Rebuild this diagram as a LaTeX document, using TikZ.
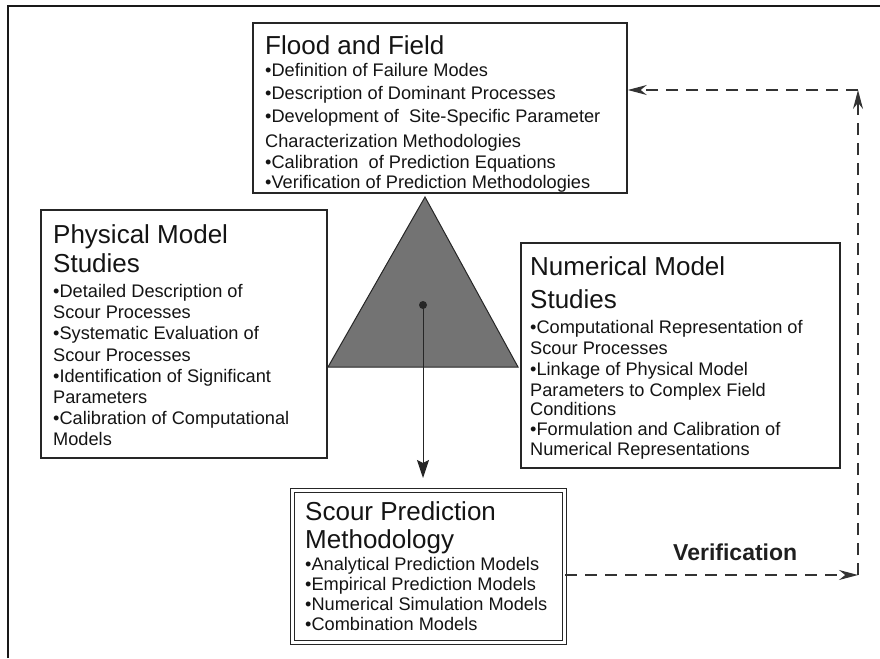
\documentclass[tikz,border=0pt]{standalone}
\usepackage{fontspec}
\setmainfont{Liberation Sans}
\usetikzlibrary{arrows.meta}
\begin{document}
\begin{tikzpicture}[x=1pt,y=-1pt,
  box/.style={draw=black!85, line width=1.6pt, rectangle, inner sep=0pt, fill=white},
  dbox/.style={draw=black!85, line width=1.2pt, double=white, double distance=2.8pt, rectangle, inner sep=0pt},
  ttl/.style={font=\fontsize{26}{26}\selectfont, anchor=base west, inner sep=0pt, text=black!92},
  bdy/.style={font=\fontsize{18.2}{18}\selectfont, anchor=base west, inner sep=0pt, text=black!92},
  dashline/.style={draw=black!80, line width=1.3pt, dash pattern=on 12pt off 8pt},
  dhead/.style={-{Stealth[length=19pt,width=10pt]}}
]
\useasboundingbox (0,0) rectangle (880,658);
% outer frame
\draw[line width=2pt, black!90] (8,658) -- (8,6) -- (880,6);

% boxes
\node[box, minimum width=374pt, minimum height=170pt] (flood) at (440,108) {};
\node[box, minimum width=286pt, minimum height=248pt] (phys) at (184,334) {};
\node[box, minimum width=319pt, minimum height=225pt] (num) at (680.5,355.5) {};
\node[dbox, minimum width=272pt, minimum height=152pt] (scour) at (428.5,566.5) {};

% triangle
\path[draw=black!85, line width=1pt, fill=black!55] (425,197) -- (518,367) -- (328,367) -- cycle;
\node[circle, fill=black!85, inner sep=0pt, minimum size=8pt] (dot) at (423,305) {};
\coordinate (tip) at (423,478);
\draw[black!85, line width=1pt, -{Stealth[length=18pt,width=12pt,inset=3pt]}] (dot.center) -- (tip);

% Flood and Field text
\node[ttl] (ft) at (265,55) {Flood and Field};
\foreach \t/\y [count=\i] in {•Definition of Failure Modes/77, •Description of Dominant Processes/100, •Development of~ Site-Specific Parameter/123, Characterization Methodologies/147, •Calibration~ of Prediction Equations/168, •Verification of Prediction Methodologies/188}
  \node[bdy] (fb\i) at (265,\y) {\t};

% Physical
\foreach \t/\y [count=\i] in {Physical Model/243, Studies/272}
  \node[ttl] (pt\i) at (53,\y) {\t};
\foreach \t/\y [count=\i] in {•Detailed Description of/297, Scour Processes/318, •Systematic Evaluation of/339, Scour Processes/361, •Identification of Significant/382, Parameters/403, •Calibration of Computational/424, Models/445}
  \node[bdy] (pb\i) at (53,\y) {\t};

% Numerical
\foreach \t/\y [count=\i] in {Numerical Model/275, Studies/308}
  \node[ttl] (nt\i) at (530,\y) {\t};
\foreach \t/\y [count=\i] in {•Computational Representation of/333, Scour Processes/354, •Linkage of Physical Model/375, Parameters to Complex Field/396, Conditions/415, •Formulation and Calibration of/435, Numerical Representations/455}
  \node[bdy] (nb\i) at (530,\y) {\t};

% Scour
\foreach \t/\y [count=\i] in {Scour Prediction/520, Methodology/548}
  \node[ttl] (st\i) at (305,\y) {\t};
\foreach \t/\y [count=\i] in {•Analytical Prediction Models/570, •Empirical Prediction Models/590, •Numerical Simulation Models/610, •Combination Models/630}
  \node[bdy] (sb\i) at (305,\y) {\t};

% verification loop
\coordinate (vr) at (858,575);
\coordinate (vt) at (858,90);
\draw[dashline, dhead] (scour.east |- vr) -- (vr);
\draw[dashline, dhead] (vr) -- (vt);
\draw[dashline, dhead] (vt) -- (flood.east |- vt);
\node[font=\bfseries\fontsize{23}{23}\selectfont, anchor=base west, inner sep=0pt, text=black!88] (verif) at (673,560) {Verification};
\end{tikzpicture}
\end{document}
